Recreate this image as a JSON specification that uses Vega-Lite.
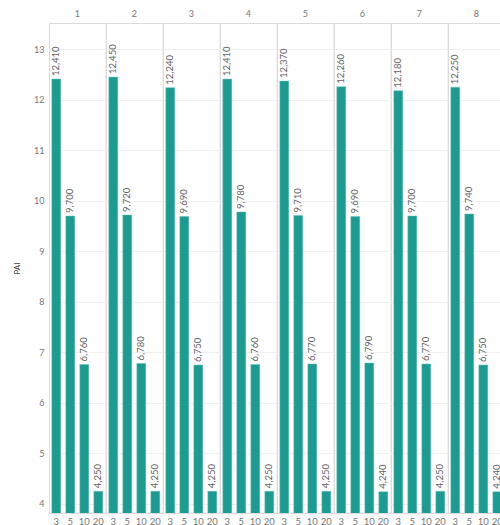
{
  "$schema": "https://vega.github.io/schema/vega-lite/v6.json",
  "padding": {"left": 13, "top": 10, "right": 0, "bottom": 0},
  "bounds": "flush",
  "data": {"values": [
    {"g": 1, "w": 3, "PAI": 12.41, "label": "12,410"},
    {"g": 1, "w": 5, "PAI": 9.70, "label": "9,700"},
    {"g": 1, "w": 10, "PAI": 6.76, "label": "6,760"},
    {"g": 1, "w": 20, "PAI": 4.25, "label": "4,250"},
    {"g": 2, "w": 3, "PAI": 12.45, "label": "12,450"},
    {"g": 2, "w": 5, "PAI": 9.72, "label": "9,720"},
    {"g": 2, "w": 10, "PAI": 6.78, "label": "6,780"},
    {"g": 2, "w": 20, "PAI": 4.25, "label": "4,250"},
    {"g": 3, "w": 3, "PAI": 12.24, "label": "12,240"},
    {"g": 3, "w": 5, "PAI": 9.69, "label": "9,690"},
    {"g": 3, "w": 10, "PAI": 6.75, "label": "6,750"},
    {"g": 3, "w": 20, "PAI": 4.25, "label": "4,250"},
    {"g": 4, "w": 3, "PAI": 12.41, "label": "12,410"},
    {"g": 4, "w": 5, "PAI": 9.78, "label": "9,780"},
    {"g": 4, "w": 10, "PAI": 6.76, "label": "6,760"},
    {"g": 4, "w": 20, "PAI": 4.25, "label": "4,250"},
    {"g": 5, "w": 3, "PAI": 12.37, "label": "12,370"},
    {"g": 5, "w": 5, "PAI": 9.71, "label": "9,710"},
    {"g": 5, "w": 10, "PAI": 6.77, "label": "6,770"},
    {"g": 5, "w": 20, "PAI": 4.25, "label": "4,250"},
    {"g": 6, "w": 3, "PAI": 12.26, "label": "12,260"},
    {"g": 6, "w": 5, "PAI": 9.69, "label": "9,690"},
    {"g": 6, "w": 10, "PAI": 6.79, "label": "6,790"},
    {"g": 6, "w": 20, "PAI": 4.24, "label": "4,240"},
    {"g": 7, "w": 3, "PAI": 12.18, "label": "12,180"},
    {"g": 7, "w": 5, "PAI": 9.70, "label": "9,700"},
    {"g": 7, "w": 10, "PAI": 6.77, "label": "6,770"},
    {"g": 7, "w": 20, "PAI": 4.25, "label": "4,250"},
    {"g": 8, "w": 3, "PAI": 12.25, "label": "12,250"},
    {"g": 8, "w": 5, "PAI": 9.74, "label": "9,740"},
    {"g": 8, "w": 10, "PAI": 6.75, "label": "6,750"},
    {"g": 8, "w": 20, "PAI": 4.24, "label": "4,240"}
  ]},
  "facet": {
    "column": {
      "field": "g",
      "type": "ordinal",
      "header": {
        "title": null,
        "labelFont": "Lato",
        "labelFontSize": 9,
        "labelColor": "#777",
        "labelPadding": 4
      }
    }
  },
  "spacing": 0,
  "spec": {
    "width": 56.6,
    "height": 490,
    "encoding": {
      "x": {
        "field": "w",
        "type": "ordinal",
        "sort": [3, 5, 10, 20],
        "scale": {"paddingInner": 0.36, "paddingOuter": 0.2},
        "axis": {
          "title": null,
          "labelAngle": 0,
          "labelFont": "Lato",
          "labelFontSize": 9.5,
          "labelColor": "#777",
          "ticks": false,
          "domain": false,
          "labelPadding": 3
        }
      },
      "y": {
        "field": "PAI",
        "type": "quantitative",
        "scale": {"domain": [3.82, 13.52], "nice": false, "zero": false},
        "axis": {
          "title": "PAI",
          "titleFont": "Lato",
          "titleFontSize": 8,
          "titleFontWeight": "normal",
          "titleColor": "#444",
          "titlePadding": 12,
          "labelFont": "Lato",
          "labelFontSize": 9,
          "labelColor": "#777",
          "values": [4, 5, 6, 7, 8, 9, 10, 11, 12, 13],
          "ticks": false,
          "domain": false,
          "labelPadding": 5,
          "gridColor": "#f0f0f0"
        }
      }
    },
    "layer": [
      {
        "mark": {"type": "bar", "color": "#1f9a91", "stroke": "#6cc3bc", "strokeWidth": 0.5, "clip": true}
      },
      {
        "mark": {
          "type": "text",
          "angle": 270,
          "align": "left",
          "baseline": "middle",
          "dx": 3,
          "font": "Lato",
          "fontSize": 9.5,
          "color": "#666"
        },
        "encoding": {"text": {"field": "label"}}
      }
    ]
  },
  "config": {
    "view": {"stroke": "#dcdcdc"}
  }
}
